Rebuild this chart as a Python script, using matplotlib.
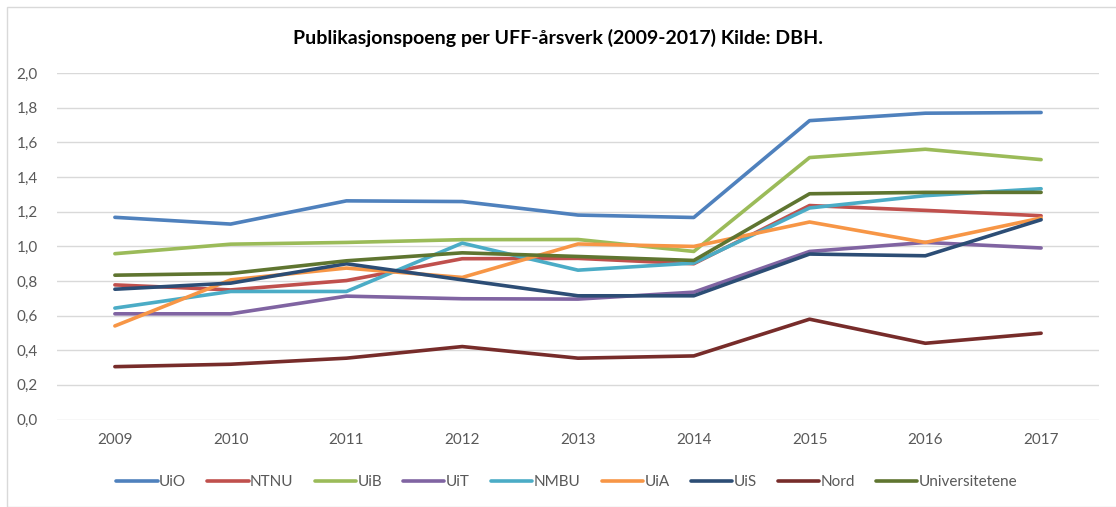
import matplotlib
matplotlib.use("Agg")
import matplotlib.pyplot as plt
from matplotlib.patches import Rectangle

years = ["2009", "2010", "2011", "2012", "2013", "2014", "2015", "2016", "2017"]
series_names = ["UiO", "NTNU", "UiB", "UiT", "NMBU", "UiA", "UiS", "Nord", "Universitetene"]

uio = [1.167, 1.128, 1.262, 1.258, 1.180, 1.166, 1.725, 1.768, 1.772]
ntnu = [0.777, 0.748, 0.802, 0.928, 0.930, 0.899, 1.235, 1.207, 1.176]
uib = [0.957, 1.012, 1.022, 1.038, 1.039, 0.970, 1.512, 1.560, 1.500]
uit = [0.610, 0.610, 0.712, 0.697, 0.695, 0.735, 0.970, 1.022, 0.990]
nmbu = [0.643, 0.739, 0.739, 1.018, 0.862, 0.903, 1.221, 1.292, 1.332]
uia = [0.540, 0.806, 0.874, 0.820, 1.013, 0.999, 1.140, 1.022, 1.163]
uis = [0.752, 0.787, 0.899, 0.806, 0.714, 0.714, 0.955, 0.945, 1.153]
nord = [0.305, 0.319, 0.354, 0.421, 0.354, 0.367, 0.579, 0.440, 0.498]
universitetene = [0.833, 0.843, 0.916, 0.962, 0.941, 0.918, 1.303, 1.311, 1.311]

values = [uio, ntnu, uib, uit, nmbu, uia, uis, nord, universitetene]
colors = ["#4F81BD", "#C0504D", "#9BBB59", "#8064A2", "#4BACC6",
          "#F79646", "#2C4D75", "#772C2A", "#5F7530"]

yticks = [0.0, 0.2, 0.4, 0.6, 0.8, 1.0, 1.2, 1.4, 1.6, 1.8, 2.0]
ytick_labels = ["0,0", "0,2", "0,4", "0,6", "0,8", "1,0", "1,2", "1,4", "1,6", "1,8", "2,0"]

plt.rcParams['font.family'] = ['Lato', 'DejaVu Sans']

W, H = 1116, 507
fig = plt.figure(figsize=(W / 100, H / 100), dpi=100)
fig.patches.append(Rectangle((7 / W, 0), 1.2, (H - 7) / H, transform=fig.transFigure,
                             fill=False, edgecolor="#D9D9D9", linewidth=1.0))

ax = fig.add_axes([57 / W, 1 - 419.5 / H, 1042 / W, 346.5 / H])
x = list(range(len(years)))
for name, vals, c in zip(series_names, values, colors):
    ax.plot(x, vals, color=c, linewidth=2.6, label=name, solid_capstyle="round",
            solid_joinstyle="round")

ax.set_xlim(-0.5, len(years) - 0.5)
ax.set_ylim(0, 2.0)
ax.set_yticks(yticks)
ax.set_yticklabels(ytick_labels)
ax.set_xticks(x)
ax.set_xticklabels(years)
ax.grid(axis="y", color="#D9D9D9", linewidth=1.0)
ax.set_axisbelow(True)
for s in ax.spines.values():
    s.set_visible(False)
ax.tick_params(axis="both", length=0, colors="#595959", labelsize=11)
ax.tick_params(axis="y", pad=14)
ax.tick_params(axis="x", pad=10)

fig.text(0.5, 1 - 38 / H, "Publikasjonspoeng per UFF-årsverk (2009-2017) Kilde: DBH.",
         ha="center", va="center", fontsize=14, fontweight="bold", color="#000000")

leg = fig.legend(loc="center", bbox_to_anchor=(0.508, 1 - 482 / H), ncol=9, frameon=False,
                 fontsize=11, handlelength=2.7, columnspacing=1.38, handletextpad=0.1)
for t in leg.get_texts():
    t.set_color("#595959")

fig.savefig("out.png", dpi=100)
